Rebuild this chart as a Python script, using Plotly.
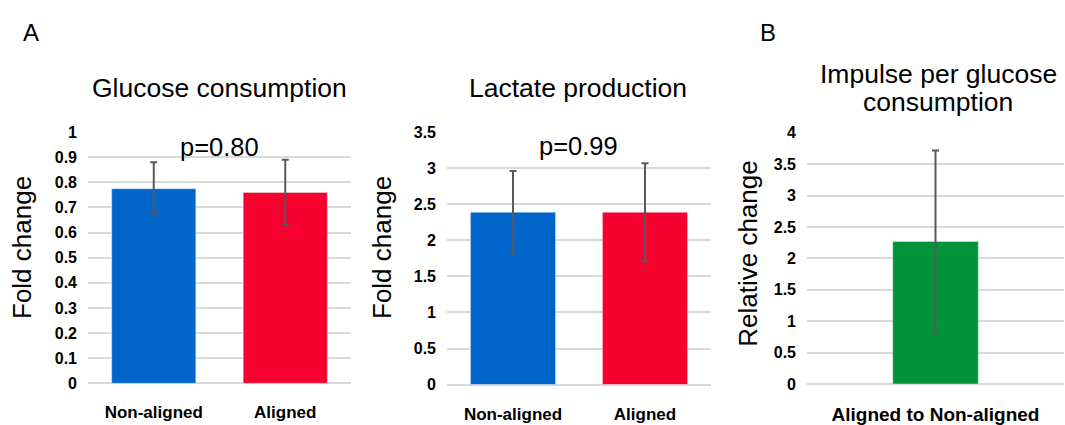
import plotly.graph_objects as go

# ---- data ----
groups = ["Non-aligned", "Aligned"]
glucose_mean = [0.775, 0.76]
glucose_err = [0.105, 0.13]
lactate_mean = [2.39, 2.39]
lactate_err = [0.57, 0.68]
impulse_cat = ["Aligned to Non-aligned"]
impulse_mean = [2.27]
impulse_err = [1.45]
pair_colors = ["#0066CC", "#F5002F"]
impulse_color = ["#00933A"]

W, H = 1065, 425
def px(x):
    return x / W
def py(y):
    return 1 - y / H

FONT = "Arial, Liberation Sans, sans-serif"
ERRC = "#595959"
GRID = "#D9D9D9"

fig = go.Figure()
err_style = dict(type="data", thickness=2, width=3.5, color=ERRC, visible=True)

fig.add_trace(go.Bar(x=groups, y=glucose_mean, marker_color=pair_colors, width=0.64,
                     error_y=dict(array=glucose_err, **err_style), xaxis="x", yaxis="y",
                     showlegend=False))
fig.add_trace(go.Bar(x=groups, y=lactate_mean, marker_color=pair_colors, width=0.645,
                     error_y=dict(array=lactate_err, **err_style), xaxis="x2", yaxis="y2",
                     showlegend=False))
fig.add_trace(go.Bar(x=impulse_cat, y=impulse_mean, marker_color=impulse_color, width=0.333,
                     error_y=dict(array=impulse_err, **err_style), xaxis="x3", yaxis="y3",
                     showlegend=False))

def xax(domain, anchor, size):
    return dict(domain=domain, anchor=anchor, showgrid=False, zeroline=False, showline=False,
                ticks="", ticklabelstandoff=17,
                tickfont=dict(family=FONT, size=size, color="black", weight="bold"))

def yax(domain, anchor, rng, dtick):
    return dict(domain=domain, anchor=anchor, range=rng, dtick=dtick, showgrid=True,
                gridcolor=GRID, gridwidth=1.5, zeroline=True, zerolinecolor=GRID,
                zerolinewidth=1.5, showline=False, ticks="", ticklabelstandoff=10,
                tickfont=dict(family=FONT, size=16, color="black", weight="bold"))

fig.update_layout(
    width=W, height=H, margin=dict(l=0, r=0, t=0, b=0),
    paper_bgcolor="white", plot_bgcolor="white",
    xaxis=xax([px(88), px(351)], "y", 17),
    yaxis=yax([py(391), py(129.3)], "x", [0, 1], 0.1),
    xaxis2=xax([px(447), px(711)], "y2", 17),
    yaxis2=yax([py(392.3), py(129.3)], "x2", [0, 3.5], 0.5),
    xaxis3=xax([px(807), px(1064)], "y3", 19),
    yaxis3=yax([py(391.7), py(130)], "x3", [0, 4], 0.5),
)

anns = []
def txt(x, y, text, size, angle=0):
    anns.append(dict(x=px(x), y=py(y), xref="paper", yref="paper", text=text,
                     showarrow=False, textangle=angle, xanchor="center", yanchor="middle",
                     font=dict(family=FONT, size=size, color="black")))

txt(31, 26, "A", 24)
txt(768, 26, "B", 24)
txt(219, 83, "Glucose consumption", 26.5)
txt(578, 83, "Lactate production", 26.5)
txt(938, 69, "Impulse per glucose", 26.5)
txt(938, 98, "consumption", 26.5)
txt(219, 145, "p=0.80", 25.5)
txt(578, 144, "p=0.99", 25.5)
txt(22, 250, "Fold change", 26, -90)
txt(382, 250, "Fold change", 26, -90)
txt(748, 256, "Relative change", 26, -90)

fig.update_layout(annotations=anns)
fig.write_html("out.html")
